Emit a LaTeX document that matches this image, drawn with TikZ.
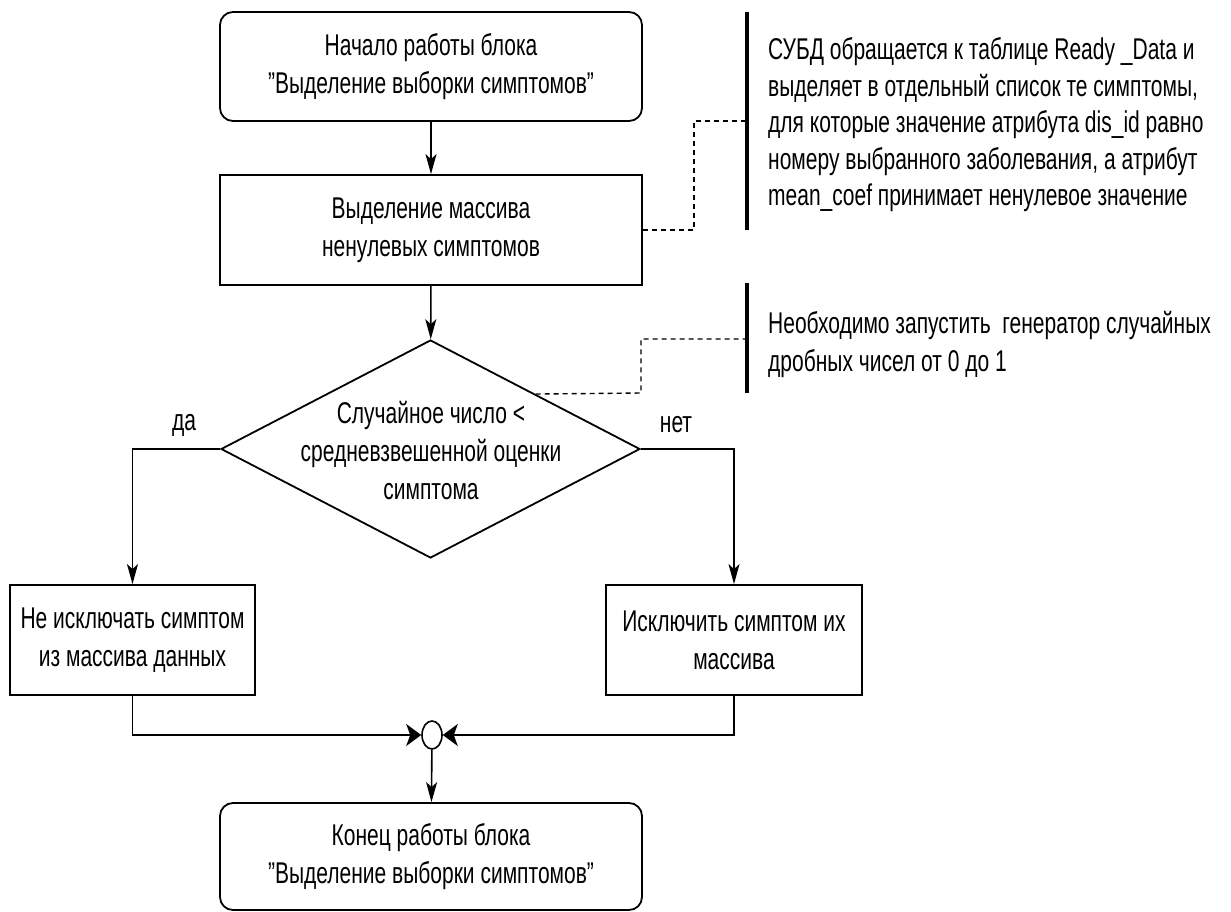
\documentclass[tikz,border=0pt]{standalone}
\usepackage{fontspec}
\setmainfont[FakeStretch=0.7]{Liberation Sans}
\usetikzlibrary{shapes.geometric,arrows.meta,calc}
\begin{document}
\begin{tikzpicture}[x=1pt,y=-1pt,
  txt/.style={font=\fontsize{30}{38}\selectfont},
  note/.style={font=\fontsize{30}{36.5}\selectfont, align=left, anchor=west, inner sep=0pt},
  term/.style={txt, draw, line width=1.8pt, rounded corners=13pt, align=center, inner sep=0pt, minimum width=422pt},
  proc/.style={txt, draw, line width=1.8pt, align=center, inner sep=0pt},
  dec/.style={draw, line width=1.8pt, diamond, aspect=1.92, inner sep=0pt, minimum width=419pt, minimum height=218pt},
  dectext/.style={txt, align=center, inner sep=0pt},
  merge/.style={draw, line width=1.6pt, ellipse, inner sep=0pt, minimum width=20pt, minimum height=28pt},
  conn/.style={line width=1.6pt},
  vflow/.style={conn, -{Stealth[length=20pt,width=11pt,inset=5pt]}},
  hflow/.style={conn, -{Stealth[length=15pt,width=22pt,inset=4pt]}},
  dashlink/.style={line width=1.4pt, dash pattern=on 5pt off 4pt},
  bar/.style={line width=4.5pt},
  lbl/.style={txt, inner sep=0pt}]
\useasboundingbox (0,0) rectangle (1231,912);

% nodes
\node[term, minimum height=109pt] (start) at (431,66.5) {Начало работы блока\\"Выделение выборки симптомов"};
\node[proc, minimum width=422pt, minimum height=110pt] (sel) at (431,230) {Выделение массива\\ненулевых симптомов};
\node[dec] (cond) at (430.5,449) {};
\node[dectext] (condtxt) at (431,451) {Случайное число <\\средневзвешенной оценки\\симптома};
\node[proc, minimum width=245pt, minimum height=110pt] (keep) at (132.5,640) {Не исключать симптом\\из массива данных};
\node[proc, minimum width=256pt, minimum height=110pt] (excl) at (734,640) {Исключить симптом их\\массива};
\node[merge] (join) at (432,735) {};
\node[term, minimum height=107pt] (stop) at (431,856.5) {Конец работы блока\\"Выделение выборки симптомов"};

\node[lbl] (yes) at (184,425) {да};
\node[lbl] (no) at (676,425) {нет};

% flow
\draw[vflow] (start) -- (sel);
\draw[vflow] (sel) -- (cond);
\draw[vflow] (cond.west) -| (keep.north);
\draw[vflow] (cond.east) -| (excl.north);
\draw[hflow] (keep.south) |- (join.west);
\draw[hflow] (excl.south) |- (join.east);
\draw[vflow] (join) -- (stop);

% annotations
\coordinate (b1t) at (747,12);
\coordinate (b1b) at (747,230);
\coordinate (b1m) at (747,121);
\draw[bar] (b1t) -- (b1b);
\node[note] (n1) at (768,125) {СУБД обращается к таблице Ready \_Data и\\выделяет в отдельный список те симптомы,\\для которые значение атрибута dis\_id равно\\номеру выбранного заболевания, а атрибут\\mean\_coef принимает ненулевое значение};
\coordinate (d1a) at (694,230);
\coordinate (d1b) at (694,121);
\draw[dashlink] (sel.east) -- (d1a) -- (d1b) -- (b1m);

\coordinate (b2t) at (747,283);
\coordinate (b2b) at (747,393);
\coordinate (b2m) at (747,339);
\draw[bar] (b2t) -- (b2b);
\node[note, font=\fontsize{30}{38}\selectfont] (n2) at (768,344) {Необходимо запустить\ \ генератор случайных\\дробных чисел от 0 до 1};
\coordinate (d2s) at ($(cond.north)!0.5!(cond.east)$);
\coordinate (d2a) at (641,393);
\coordinate (d2b) at (641,339);
\draw[dashlink] (d2s) -- (d2a) -- (d2b) -- (b2m);
\end{tikzpicture}
\end{document}
